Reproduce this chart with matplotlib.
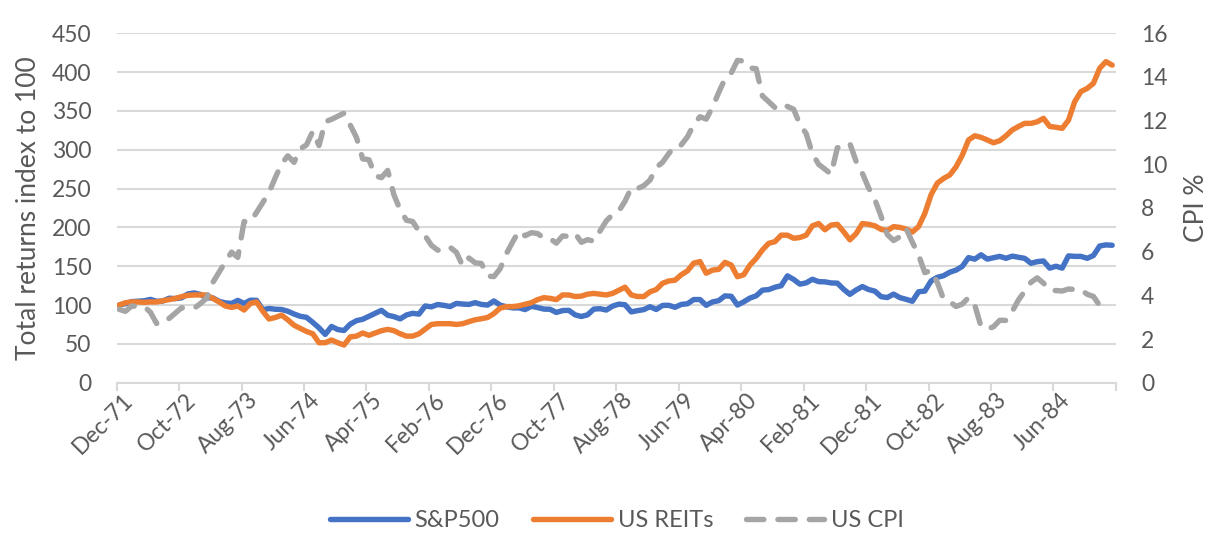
import numpy as np
import matplotlib.pyplot as plt
from matplotlib.transforms import ScaledTranslation

# monthly values, Dec-71 .. Mar-85
sp500 = [100.0,
         101.8, 104.4, 105.0, 105.5, 107.3, 104.9, 105.2, 108.8, 108.3, 109.3, 114.3, 115.6,
         113.7, 109.4, 109.2, 104.8, 102.8, 102.1, 106.0, 102.1, 106.2, 106.1, 94.0, 95.6,
         94.6, 94.3, 92.1, 88.5, 85.5, 84.2, 77.7, 70.7, 62.2, 72.4, 68.5, 67.2,
         75.4, 79.9, 81.7, 85.5, 89.3, 93.2, 86.9, 85.1, 82.2, 87.2, 89.4, 88.3,
         98.8, 97.7, 100.7, 99.6, 98.1, 102.1, 101.3, 100.8, 103.1, 100.8, 100.0, 105.3,
         99.9, 97.8, 96.4, 96.4, 94.2, 98.4, 96.8, 94.8, 94.6, 90.5, 92.9, 93.2,
         87.4, 85.3, 87.4, 94.8, 95.3, 93.6, 98.6, 101.2, 100.4, 91.2, 92.8, 94.1,
         97.9, 94.3, 99.5, 99.7, 97.1, 100.8, 101.7, 107.1, 107.1, 99.7, 104.0, 105.7,
         111.8, 111.3, 100.0, 104.1, 109.0, 111.9, 119.2, 119.9, 122.9, 124.9, 137.6, 133.0,
         126.9, 128.6, 133.2, 130.1, 129.9, 128.5, 128.2, 120.3, 113.8, 119.4, 123.8, 120.0,
         117.9, 110.8, 109.7, 114.1, 109.6, 107.4, 104.9, 117.1, 118.0, 131.0, 135.7, 137.8,
         142.3, 145.0, 149.8, 161.1, 159.1, 164.7, 159.2, 161.0, 162.7, 160.2, 163.0, 161.6,
         160.1, 153.8, 155.9, 156.8, 147.5, 150.0, 147.6, 163.3, 162.7, 162.7, 160.2, 163.8,
         176.0, 177.5, 177.0]

reits = [100, 103, 104, 104, 103.5, 104, 104, 105.6, 107, 108.6, 110.8, 112.5, 113,
         113, 113, 108.6, 104, 98.8, 97, 98.8, 93.6, 102, 104, 92, 82,
         84, 87, 81, 74, 70, 66, 63, 51.5, 51.5, 55, 51.5, 48.5,
         59, 60, 64, 61, 64, 67, 68.7, 67, 63, 60, 60, 63,
         69, 75, 76, 76, 76, 75, 76, 78.6, 81, 82.4, 84, 89,
         96, 98, 98, 99, 101, 103, 107, 109.5, 108.6, 107, 113, 113,
         111, 111.5, 114, 115, 114, 113, 115, 119, 123, 113, 111, 111,
         117, 120, 128, 131, 132, 139, 144, 154, 156, 141, 145, 146,
         155, 151.5, 136.5, 139, 151.5, 160, 171, 179.5, 181.6, 190, 190, 186,
         187, 190, 202, 205, 197, 203, 204, 194.5, 184, 192, 205, 204,
         202, 197.5, 196, 201, 200, 198, 194, 201, 218, 242, 257, 263,
         267.5, 278, 293, 312.6, 318, 316, 312.6, 309, 311.7, 318, 325.5, 330,
         334, 334, 336, 340.5, 330, 329, 327.6, 338, 362, 375, 379, 385.6,
         405, 413.5, 409]

# CPI %, Dec-71 .. Feb-85
cpi = [3.36,
       3.27, 3.51, 3.50, 3.49, 3.23, 2.71, 2.95, 2.94, 3.19, 3.43, 3.42, 3.41,
       3.62, 3.87, 4.59, 5.06, 5.53, 5.98, 5.74, 7.38, 7.36, 7.80, 8.25, 8.71,
       9.39, 10.02, 10.39, 10.09, 10.71, 10.89, 11.51, 10.86, 11.95, 12.06, 12.20, 12.34,
       11.80, 11.23, 10.25, 10.21, 9.47, 9.39, 9.72, 8.60, 7.91, 7.44, 7.38, 6.94,
       6.72, 6.29, 6.07, 6.05, 6.20, 5.97, 5.35, 5.71, 5.49, 5.46, 4.88, 4.86,
       5.22, 5.91, 6.44, 6.95, 6.73, 6.87, 6.83, 6.62, 6.60, 6.39, 6.72, 6.70,
       6.84, 6.43, 6.55, 6.48, 6.95, 7.41, 7.70, 7.86, 8.31, 8.93, 8.89, 9.02,
       9.28, 9.86, 10.09, 10.49, 10.85, 10.89, 11.26, 11.82, 12.18, 12.07, 12.61, 13.29,
       13.91, 14.18, 14.76, 14.73, 14.41, 14.38, 13.13, 12.87, 12.60, 12.77, 12.65, 12.52,
       11.83, 11.41, 10.49, 10.00, 9.78, 9.55, 10.76, 10.80, 10.95, 10.14, 9.59, 8.92,
       8.39, 7.62, 6.78, 6.51, 6.68, 7.06, 6.44, 5.85, 5.04, 5.14, 4.59, 3.83,
       3.71, 3.49, 3.60, 3.90, 3.55, 2.58, 2.46, 2.56, 2.86, 2.85, 3.27, 3.79,
       4.19, 4.60, 4.80, 4.56, 4.23, 4.22, 4.20, 4.29, 4.27, 4.26, 4.05, 3.95,
       3.53, 3.52]

tick_labels = ['Dec-71', 'Oct-72', 'Aug-73', 'Jun-74', 'Apr-75', 'Feb-76', 'Dec-76',
               'Oct-77', 'Aug-78', 'Jun-79', 'Apr-80', 'Feb-81', 'Dec-81', 'Oct-82',
               'Aug-83', 'Jun-84']

plt.rcParams['font.family'] = ['Lato', 'DejaVu Sans']
TXT = '#595959'
GRID = '#D9D9D9'
FS = 16.5

fig = plt.figure(figsize=(12.24, 5.54), dpi=100)
ax = fig.add_axes([0.0953, 0.3092, 0.8164, 0.6307])
ax2 = ax.twinx()

x = np.arange(len(sp500)) + 0.4
xc = np.arange(len(cpi)) + 0.4

l1, = ax.plot(x, sp500, color='#4472C4', lw=3.9, solid_joinstyle='round',
              solid_capstyle='round', label='S&P500')
l2, = ax.plot(x, reits, color='#ED7D31', lw=3.9, solid_joinstyle='round',
              solid_capstyle='round', label='US REITs')
l3, = ax2.plot(xc, cpi, color='#A5A5A5', lw=3.9, linestyle=(0, (3.2, 2.6)),
               dash_capstyle='round', dash_joinstyle='round', label='US CPI')

ax.set_xlim(0, 160)
ax.set_ylim(0, 450)
ax2.set_ylim(0, 16)
ax.set_yticks(range(0, 451, 50))
ax2.set_yticks(range(0, 17, 2))
ax.set_xticks(range(0, 161, 10))
ax.set_xticklabels([])

# rotated date labels, placed like Excel does them
lab_tr = ax.get_xaxis_transform() + ScaledTranslation(0.13, -0.14, fig.dpi_scale_trans)
for i, lab in enumerate(tick_labels):
    ax.text(i * 10, 0, lab, transform=lab_tr, rotation=45, ha='right', va='center',
            rotation_mode='anchor', fontsize=FS, color=TXT)

ax.yaxis.grid(True, color=GRID, lw=1.5)
ax.set_axisbelow(True)
for a in (ax, ax2):
    for s in a.spines.values():
        s.set_visible(False)
ax.spines['bottom'].set_visible(True)
ax.spines['bottom'].set_color(GRID)
ax.spines['bottom'].set_linewidth(1.5)

ax.tick_params(axis='x', direction='out', length=6, width=1.5, color=GRID)
ax.tick_params(axis='y', length=0, labelcolor=TXT, labelsize=FS, pad=18)
ax2.tick_params(axis='y', length=0, labelcolor=TXT, labelsize=FS, pad=18)

ax.set_ylabel('Total returns index to 100', color=TXT, fontsize=19, labelpad=8)
ax2.set_ylabel('CPI %', color=TXT, fontsize=19, rotation=90, labelpad=12)

fig.legend(handles=[l1, l2, l3], loc='center', bbox_to_anchor=(0.504, 0.06), ncol=3,
           frameon=False, fontsize=17, labelcolor=TXT, handlelength=3.3,
           handletextpad=0.3, columnspacing=1.4)

fig.savefig('out.png', dpi=100)
